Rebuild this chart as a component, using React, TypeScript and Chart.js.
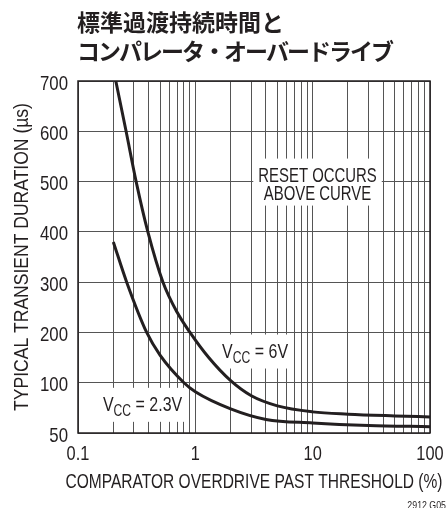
import React, { useEffect, useRef } from "react";
import { Chart, registerables, LinearScale } from "chart.js";

Chart.register(...registerables);

// ---------- data ----------
const titleLines = ["標準過渡持続時間と", "コンパレータ・オーバードライブ"];
const xAxisTitle = "COMPARATOR OVERDRIVE PAST THRESHOLD (%)";
const yAxisTitle = "TYPICAL TRANSIENT DURATION (µs)";
const figCode = "2912 G05";

const yTicks = [50, 100, 200, 300, 400, 500, 600, 700];
const xTickLabels = [0.1, 1, 10, 100];
const xDecades = [0.1, 1, 10];

const vcc6X = [0.21, 0.257, 0.313, 0.394, 0.53, 0.7, 0.9, 1.3, 2.0, 3.0, 5.0, 10, 20, 50, 100];
const vcc6Y = [700, 600, 500, 400, 300, 240, 200, 150, 104, 87, 77, 71, 68.7, 67, 66];

const vcc23X = [0.2, 0.26, 0.385, 0.5, 0.8, 1.0, 2.0, 4.0, 10, 30, 100];
const vcc23Y = [380, 300, 200, 155, 100, 91, 74, 63.5, 60, 57.5, 56.3];

const noteLines = ["RESET OCCURS", "ABOVE CURVE"];
const noteAt = { x: 11, y: 496 };
const label6 = { text: " = 6V", x: 3.23, y: 164 };
const label23 = { text: " = 2.3V", x: 0.355, y: 79 };

// ---------- piecewise scale: equal spacing between listed ticks ----------
class PiecewiseScale extends (LinearScale as any) {
  static id = "piecewise";
  static defaults = (LinearScale as any).defaults;
  getPixelForValue(value: number) {
    if (value === null || value === undefined || isNaN(value)) return NaN;
    const b = yTicks;
    let i = 0;
    while (i < b.length - 2 && value > b[i + 1]) i++;
    const t = (value - b[i]) / (b[i + 1] - b[i]);
    return (this as any).getPixelForDecimal((i + t) / (b.length - 1));
  }
  getValueForPixel(pixel: number) {
    const d = (this as any).getDecimalForPixel(pixel) * (yTicks.length - 1);
    const i = Math.max(0, Math.min(yTicks.length - 2, Math.floor(d)));
    return yTicks[i] + (d - i) * (yTicks[i + 1] - yTicks[i]);
  }
}
Chart.register(PiecewiseScale as any);

const SANS = "'Liberation Sans', Arial, Helvetica, sans-serif";
const INK = "#231f20";
const GRID = "#555555";

function buildLogTicks() {
  const out: { value: number }[] = [];
  xDecades.forEach((d) => {
    for (let k = 1; k <= 9; k++) out.push({ value: Number((k * d).toPrecision(3)) });
  });
  out.push({ value: 100 });
  return out;
}

// condensed text: horizontally scaled sans, alphabetic baseline
function ntext(
  ctx: CanvasRenderingContext2D,
  s: string,
  x: number,
  y: number,
  size: number,
  sx: number,
  align: "left" | "center" | "right" = "left"
) {
  ctx.save();
  ctx.font = `${size}px ${SANS}`;
  ctx.textAlign = "left";
  ctx.textBaseline = "alphabetic";
  const w = ctx.measureText(s).width * sx;
  const x0 = align === "left" ? x : align === "center" ? x - w / 2 : x - w;
  ctx.translate(x0, y);
  ctx.scale(sx, 1);
  ctx.fillText(s, 0, 0);
  ctx.restore();
  return w;
}
function nwidth(ctx: CanvasRenderingContext2D, s: string, size: number, sx: number) {
  ctx.save();
  ctx.font = `${size}px ${SANS}`;
  const w = ctx.measureText(s).width * sx;
  ctx.restore();
  return w;
}

const LBL = 21;
const LSX = 0.76;

function vccWidth(ctx: CanvasRenderingContext2D, suffix: string) {
  return nwidth(ctx, "V", LBL, LSX) + nwidth(ctx, "CC", 16, LSX) + nwidth(ctx, suffix, LBL, LSX);
}
function drawVcc(ctx: CanvasRenderingContext2D, cx: number, cy: number, suffix: string) {
  const total = vccWidth(ctx, suffix);
  let x = cx - total / 2;
  const base = cy + 7.5;
  ctx.fillStyle = INK;
  x += ntext(ctx, "V", x, base, LBL, LSX);
  x += ntext(ctx, "CC", x, base + 5, 16, LSX);
  ntext(ctx, suffix, x, base, LBL, LSX);
}

const overlay = {
  id: "overlay",
  beforeDatasetsDraw(chart: any) {
    const { ctx, chartArea: a, scales } = chart;
    ctx.save();
    ctx.fillStyle = "#ffffff";
    // note box
    const nx = scales.x.getPixelForValue(noteAt.x);
    const ny = scales.y.getPixelForValue(noteAt.y);
    const w = Math.max(...noteLines.map((l) => nwidth(ctx, l, LBL, 0.71)));
    ctx.fillRect(nx - w / 2 - 5, ny - 25, w + 10, 47);
    // vcc boxes
    [label6, label23].forEach((l) => {
      const cx = scales.x.getPixelForValue(l.x);
      const cy = scales.y.getPixelForValue(l.y);
      const tw = vccWidth(ctx, l.text);
      ctx.fillRect(cx - tw / 2 - 4, cy - 16, tw + 8, 34);
    });
    // frame
    ctx.strokeStyle = INK;
    ctx.lineWidth = 1.5;
    ctx.strokeRect(a.left, a.top, a.right - a.left, a.bottom - a.top);
    ctx.restore();
  },
  afterDatasetsDraw(chart: any) {
    const { ctx, chartArea: a, scales } = chart;
    ctx.save();
    ctx.fillStyle = INK;

    // note text
    const nx = scales.x.getPixelForValue(noteAt.x);
    const ny = scales.y.getPixelForValue(noteAt.y);
    noteLines.forEach((l, i) => ntext(ctx, l, nx, ny - 9 + i * 18 + 7.5, LBL, 0.71, "center"));

    // VCC labels
    drawVcc(ctx, scales.x.getPixelForValue(label6.x), scales.y.getPixelForValue(label6.y), label6.text);
    drawVcc(ctx, scales.x.getPixelForValue(label23.x), scales.y.getPixelForValue(label23.y), label23.text);

    // tick labels
    yTicks.forEach((v) => {
      ntext(ctx, String(v), a.left - 10, scales.y.getPixelForValue(v) + 8.5, LBL, 0.8, "right");
    });
    xTickLabels.forEach((v) => {
      ntext(ctx, String(v), scales.x.getPixelForValue(v), 460, LBL, 0.78, "center");
    });

    // axis titles
    ntext(ctx, xAxisTitle, (a.left + a.right) / 2, 487.5, LBL, 0.74, "center");
    ctx.save();
    ctx.translate(27.5, (a.top + a.bottom) / 2);
    ctx.rotate(-Math.PI / 2);
    ntext(ctx, yAxisTitle, 0, 0, LBL, 0.835, "center");
    ctx.restore();

    // title
    ctx.fillStyle = INK;
    ctx.textAlign = "left";
    ctx.textBaseline = "middle";
    ctx.font = `bold 23px 'Noto Sans CJK JP', sans-serif`;
    ctx.fillText(titleLines[0], a.left - 1, 22.5);
    (ctx as any).letterSpacing = "-2px";
    ctx.fillText(titleLines[1], a.left - 1, 51);
    (ctx as any).letterSpacing = "0px";

    // figure code
    ntext(ctx, figCode, 446, 509, 11, 0.8, "right");
    ctx.restore();
  },
};

export default function App() {
  const ref = useRef<HTMLCanvasElement | null>(null);
  useEffect(() => {
    if (!ref.current) return;
    const chart = new Chart(ref.current, {
      type: "scatter",
      data: {
        datasets: [
          {
            label: "VCC = 6V",
            data: vcc6X.map((x, i) => ({ x, y: vcc6Y[i] })),
            showLine: true,
            borderColor: INK,
            borderWidth: 3,
            pointRadius: 0,
            cubicInterpolationMode: "monotone",
          },
          {
            label: "VCC = 2.3V",
            data: vcc23X.map((x, i) => ({ x, y: vcc23Y[i] })),
            showLine: true,
            borderColor: INK,
            borderWidth: 3,
            pointRadius: 0,
            cubicInterpolationMode: "monotone",
          },
        ],
      },
      options: {
        responsive: false,
        animation: false,
        devicePixelRatio: 1,
        layout: { padding: { top: 81, right: 17, bottom: 0, left: 0 } },
        plugins: { legend: { display: false }, title: { display: false }, tooltip: { enabled: false } },
        scales: {
          x: {
            type: "logarithmic",
            min: 0.1,
            max: 100,
            afterBuildTicks: (s: any) => {
              s.ticks = buildLogTicks();
            },
            afterFit: (s: any) => {
              s.height = 75;
            },
            ticks: { display: false, autoSkip: false },
            grid: { color: GRID, lineWidth: 1, drawTicks: false },
            border: { display: false },
          },
          y: {
            type: "piecewise" as any,
            min: 50,
            max: 700,
            afterBuildTicks: (s: any) => {
              s.ticks = yTicks.map((v) => ({ value: v }));
            },
            afterFit: (s: any) => {
              s.width = 78;
            },
            ticks: { display: false },
            grid: { color: GRID, lineWidth: 1, drawTicks: false },
            border: { display: false },
          },
        },
      },
      plugins: [overlay],
    } as any);
    return () => chart.destroy();
  }, []);
  return (
    <div style={{ position: "fixed", left: 0, top: 0, width: 447, height: 508, background: "#fff" }}>
      <canvas ref={ref} width={447} height={508} style={{ display: "block" }} />
    </div>
  );
}
